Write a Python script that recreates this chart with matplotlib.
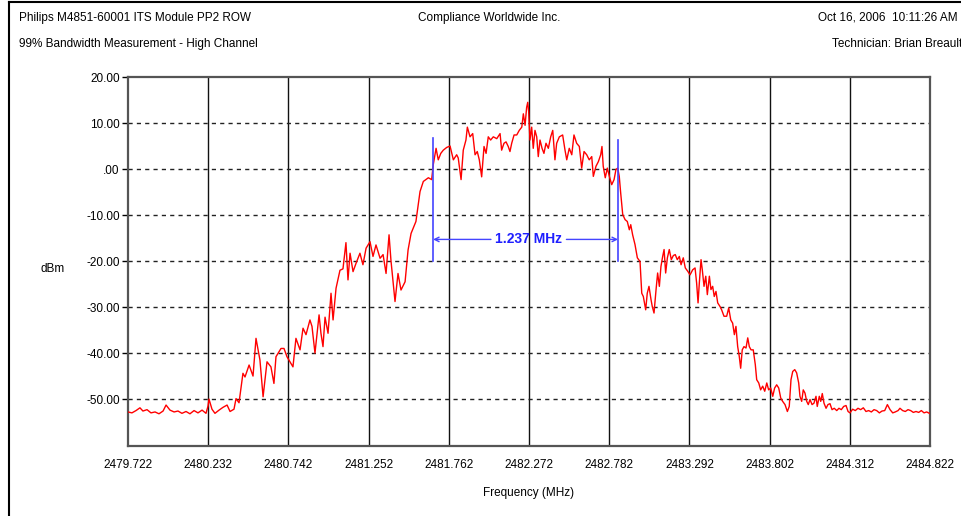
import numpy as np
import matplotlib.pyplot as plt
from matplotlib.lines import Line2D

plt.rcParams['font.family'] = ['Liberation Sans', 'DejaVu Sans']

# trace: frequency (MHz) / level (dBm)
freq_mhz = [
    2479.722, 2479.747, 2479.773, 2479.798, 2479.817, 2479.843, 2479.868, 2479.894, 2479.919, 2479.945,
    2479.964, 2479.989, 2480.015, 2480.040, 2480.065, 2480.091, 2480.116, 2480.142, 2480.167, 2480.193,
    2480.218, 2480.231, 2480.237, 2480.256, 2480.275, 2480.301, 2480.326, 2480.352, 2480.371, 2480.396,
    2480.409, 2480.428, 2480.453, 2480.466, 2480.492, 2480.517, 2480.536, 2480.561, 2480.581, 2480.606,
    2480.631, 2480.650, 2480.663, 2480.695, 2480.714, 2480.733, 2480.752, 2480.771, 2480.790, 2480.816,
    2480.835, 2480.854, 2480.879, 2480.892, 2480.911, 2480.937, 2480.949, 2480.962, 2480.975, 2480.994,
    2481.013, 2481.026, 2481.045, 2481.070, 2481.089, 2481.108, 2481.121, 2481.134, 2481.153, 2481.172,
    2481.197, 2481.216, 2481.236, 2481.261, 2481.280, 2481.299, 2481.325, 2481.344, 2481.363, 2481.382,
    2481.394, 2481.420, 2481.439, 2481.458, 2481.484, 2481.503, 2481.522, 2481.553, 2481.579, 2481.600,
    2481.632, 2481.653, 2481.663, 2481.681, 2481.695, 2481.711, 2481.727, 2481.749, 2481.770, 2481.791,
    2481.812, 2481.822, 2481.840, 2481.854, 2481.871, 2481.880, 2481.897, 2481.914, 2481.929, 2481.943,
    2481.956, 2481.971, 2481.986, 2481.999, 2482.013, 2482.028, 2482.045, 2482.067, 2482.088, 2482.098,
    2482.113, 2482.126, 2482.140, 2482.151, 2482.162, 2482.177, 2482.194, 2482.210, 2482.226, 2482.236,
    2482.247, 2482.257, 2482.264, 2482.270, 2482.278, 2482.289, 2482.299, 2482.310, 2482.321, 2482.331,
    2482.342, 2482.355, 2482.367, 2482.380, 2482.395, 2482.410, 2482.423, 2482.437, 2482.448, 2482.465,
    2482.486, 2482.501, 2482.512, 2482.528, 2482.544, 2482.558, 2482.575, 2482.592, 2482.607, 2482.622,
    2482.639, 2482.655, 2482.671, 2482.681, 2482.698, 2482.713, 2482.728, 2482.736, 2482.744, 2482.757,
    2482.770, 2482.783, 2482.798, 2482.813, 2482.825, 2482.836, 2482.846, 2482.855, 2482.868, 2482.883,
    2482.897, 2482.910, 2482.919, 2482.931, 2482.946, 2482.961, 2482.978, 2482.989, 2482.999, 2483.014,
    2483.024, 2483.035, 2483.048, 2483.056, 2483.067, 2483.080, 2483.090, 2483.101, 2483.111, 2483.122,
    2483.131, 2483.141, 2483.152, 2483.164, 2483.177, 2483.190, 2483.202, 2483.215, 2483.228, 2483.239,
    2483.253, 2483.266, 2483.281, 2483.296, 2483.313, 2483.328, 2483.338, 2483.347, 2483.355, 2483.366,
    2483.374, 2483.385, 2483.396, 2483.406, 2483.419, 2483.429, 2483.440, 2483.450, 2483.461, 2483.472,
    2483.487, 2483.497, 2483.512, 2483.529, 2483.542, 2483.555, 2483.567, 2483.578, 2483.588, 2483.599,
    2483.609, 2483.618, 2483.628, 2483.639, 2483.652, 2483.663, 2483.673, 2483.684, 2483.698, 2483.711,
    2483.720, 2483.733, 2483.745, 2483.758, 2483.771, 2483.784, 2483.796, 2483.809, 2483.822, 2483.834,
    2483.847, 2483.860, 2483.873, 2483.885, 2483.900, 2483.915, 2483.927, 2483.938, 2483.949, 2483.962,
    2483.974, 2483.987, 2483.995, 2484.006, 2484.016, 2484.027, 2484.038, 2484.048, 2484.059, 2484.072,
    2484.084, 2484.097, 2484.105, 2484.118, 2484.127, 2484.137, 2484.148, 2484.161, 2484.173, 2484.186,
    2484.199, 2484.213, 2484.229, 2484.243, 2484.258, 2484.273, 2484.288, 2484.301, 2484.313, 2484.330,
    2484.347, 2484.364, 2484.381, 2484.398, 2484.415, 2484.432, 2484.449, 2484.466, 2484.483, 2484.500,
    2484.517, 2484.534, 2484.551, 2484.568, 2484.585, 2484.601, 2484.619, 2484.631, 2484.648, 2484.665,
    2484.682, 2484.699, 2484.716, 2484.733, 2484.750, 2484.767, 2484.784, 2484.801, 2484.818,
]
level_dbm = [
    -52.8, -53.0, -52.5, -51.9, -52.6, -52.3, -53.0, -52.8, -53.2, -52.6,
    -51.3, -52.4, -52.8, -52.6, -53.1, -52.7, -53.2, -52.5, -53.0, -52.4,
    -53.1, -51.5, -50.0, -52.2, -53.1, -52.4, -51.8, -51.3, -52.7, -52.2,
    -49.9, -50.8, -44.4, -45.2, -42.6, -45.0, -36.8, -41.5, -49.5, -41.9,
    -43.0, -46.6, -40.8, -39.0, -39.0, -40.8, -41.9, -43.0, -36.8, -39.3,
    -34.6, -36.0, -32.8, -34.2, -40.0, -31.7, -35.7, -38.6, -32.2, -35.7,
    -27.0, -32.8, -25.9, -22.0, -21.7, -16.0, -24.1, -18.3, -22.3, -20.5,
    -18.3, -20.8, -17.2, -15.8, -19.0, -16.5, -19.4, -18.6, -22.7, -14.3,
    -19.8, -28.8, -22.7, -26.3, -24.5, -17.6, -14.0, -11.4, -4.9, -2.7,
    -1.9, -2.3, 0.9, 4.5, 2.0, 3.4, 4.1, 4.7, 5.0, 2.0,
    3.1, 2.4, -2.3, 4.1, 6.3, 9.1, 7.0, 7.7, 3.1, 3.8,
    2.0, -1.7, 4.9, 3.4, 7.0, 6.3, 7.0, 6.6, 7.7, 4.1,
    5.6, 5.9, 4.9, 3.8, 5.6, 7.4, 7.4, 8.4, 9.1, 12.0,
    9.5, 13.4, 14.5, 12.4, 6.3, 9.1, 4.5, 8.4, 7.0, 2.7,
    6.3, 4.5, 3.4, 5.6, 4.5, 7.0, 8.4, 2.0, 5.6, 7.0,
    7.4, 4.1, 2.0, 4.5, 3.1, 7.4, 5.6, 4.9, 0.2, 3.8,
    3.1, 2.0, 2.7, -1.6, 0.6, 1.6, 3.1, 4.9, 0.6, -1.9,
    0.2, -1.6, -3.4, -2.3, -0.1, 0.2, -1.6, -5.2, -9.9, -11.0,
    -11.4, -13.2, -12.1, -14.3, -16.4, -19.3, -20.1, -27.0, -27.7, -30.6,
    -27.0, -25.5, -28.4, -29.9, -31.3, -26.2, -22.6, -25.5, -21.2, -19.0,
    -17.5, -22.6, -19.3, -17.5, -19.7, -18.8, -18.6, -19.7, -19.0, -20.8,
    -19.3, -21.5, -22.2, -23.0, -21.9, -21.5, -24.8, -29.1, -24.8, -19.7,
    -21.9, -25.5, -23.3, -27.3, -23.3, -26.2, -25.5, -27.7, -26.6, -29.1,
    -29.9, -30.6, -32.0, -32.0, -30.2, -32.8, -33.5, -36.0, -34.2, -38.6,
    -40.7, -43.3, -39.3, -38.6, -38.9, -36.7, -38.6, -39.3, -39.3, -42.5,
    -45.8, -46.5, -48.0, -47.2, -48.3, -46.5, -48.0, -47.6, -49.4, -47.6,
    -46.9, -47.6, -49.8, -50.5, -51.2, -52.7, -51.6, -45.8, -44.0, -43.6,
    -44.3, -46.5, -49.4, -50.5, -48.0, -48.7, -50.5, -51.2, -50.1, -51.2,
    -50.9, -49.4, -51.6, -49.4, -50.5, -48.8, -50.9, -52.0, -51.2, -51.0,
    -52.3, -52.0, -52.5, -52.0, -52.3, -51.6, -51.4, -52.7, -53.0, -52.2,
    -52.5, -52.0, -52.3, -51.9, -52.7, -52.5, -52.8, -52.3, -52.5, -53.0,
    -52.6, -52.5, -51.2, -52.3, -53.0, -52.8, -52.5, -52.0, -52.5, -52.7,
    -52.3, -52.5, -52.9, -52.7, -52.9, -52.5, -53.0, -52.8, -53.1,
]

x_ticks = [2479.722, 2480.232, 2480.742, 2481.252, 2481.762, 2482.272,
           2482.782, 2483.292, 2483.802, 2484.312, 2484.822]
x_labels = ['2479.722', '2480.232', '2480.742', '2481.252', '2481.762', '2482.272',
            '2482.782', '2483.292', '2483.802', '2484.312', '2484.822']
y_ticks = [-50, -40, -30, -20, -10, 0, 10, 20]
y_labels = ['-50.00', '-40.00', '-30.00', '-20.00', '-10.00', '.00', '10.00', '20.00']

# 99% bandwidth markers
bw_left = 2481.662
bw_right = 2482.838
bw_label = '1.237 MHz'

fig = plt.figure(figsize=(9.61, 5.16), dpi=100)
ax = fig.add_axes([128 / 961, 1 - 446 / 516, 802 / 961, 369 / 516])

ax.plot(freq_mhz, level_dbm, color='#ff0000', lw=1.0, zorder=3)

ax.set_xlim(2479.722, 2484.822)
ax.set_ylim(-60.2, 20)
ax.set_xticks(x_ticks)
ax.set_xticklabels(x_labels, fontsize=8.5)
ax.set_yticks(y_ticks)
ax.set_yticklabels(y_labels, fontsize=8.5)
ax.tick_params(axis='x', length=0, pad=9)
ax.tick_params(axis='y', length=4, width=1, pad=2)

for f in x_ticks[1:-1]:
    ax.axvline(f, color='#111111', lw=1.0, zorder=1)
for v in y_ticks[:-1]:
    ax.axhline(v, color='#222222', lw=1.0, ls=(0, (3, 3)), zorder=1)

for s in ax.spines.values():
    s.set_color('#555555')
    s.set_linewidth(1.6)

ax.set_xlabel('Frequency (MHz)', fontsize=8.5, labelpad=12)
ax.text(-0.094, 0.48, 'dBm', transform=ax.transAxes, fontsize=8.5, ha='center', va='center')

# bandwidth marker lines and arrows
blue = '#4444ff'
ax.plot([bw_left, bw_left], [-20, 6.8], color=blue, lw=1.2, zorder=4)
ax.plot([bw_right, bw_right], [-20, 6.2], color=blue, lw=1.2, zorder=4)
ax.annotate('', xy=(bw_left, -15.3), xytext=(2482.03, -15.3),
            arrowprops=dict(arrowstyle='->', color=blue, lw=1.0, shrinkA=0, shrinkB=0,
                            mutation_scale=8), zorder=4)
ax.annotate('', xy=(bw_right, -15.3), xytext=(2482.51, -15.3),
            arrowprops=dict(arrowstyle='->', color=blue, lw=1.0, shrinkA=0, shrinkB=0,
                            mutation_scale=8), zorder=4)
ax.text((2482.03 + 2482.51) / 2, -15.3, bw_label, color='#1f1fff', fontsize=10,
        fontweight='bold', ha='center', va='center', zorder=5)

# header texts
fig.text(19 / 961, 1 - 18 / 516, 'Philips M4851-60001 ITS Module PP2 ROW', fontsize=8.5, va='center')
fig.text(19 / 961, 1 - 44 / 516, '99% Bandwidth Measurement - High Channel', fontsize=8.5, va='center')
fig.text(489 / 961, 1 - 18 / 516, 'Compliance Worldwide Inc.', fontsize=8.5, va='center', ha='center')
fig.text(958 / 961, 1 - 18 / 516, 'Oct 16, 2006  10:11:26 AM', fontsize=8.5, va='center', ha='right')
fig.text(962 / 961, 1 - 44 / 516, 'Technician: Brian Breault', fontsize=8.5, va='center', ha='right')

# outer frame
fig.add_artist(Line2D([8.5 / 961, 8.5 / 961], [0, 1 - 1.5 / 516], color='black', lw=1.5))
fig.add_artist(Line2D([8.5 / 961, 1], [1 - 1.5 / 516, 1 - 1.5 / 516], color='black', lw=1.5))

fig.savefig('out.png', dpi=100)
